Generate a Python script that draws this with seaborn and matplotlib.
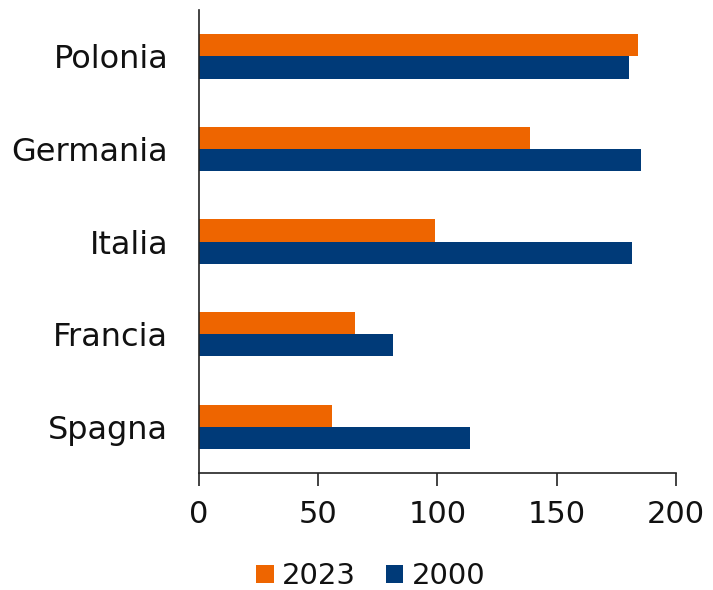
import matplotlib
matplotlib.use("Agg")
import matplotlib.pyplot as plt
import seaborn as sns
import pandas as pd

paesi = ["Polonia", "Germania", "Italia", "Francia", "Spagna"]
valori_2023 = [184, 139, 99, 65.5, 56]
valori_2000 = [180.5, 185.5, 181.5, 81.5, 113.5]
anni = ["2023", "2000"]
colori = ["#EE6500", "#003A78"]

df = pd.DataFrame({
    "paese": paesi * 2,
    "anno": [anni[0]] * len(paesi) + [anni[1]] * len(paesi),
    "valore": valori_2023 + valori_2000,
})

sns.set_theme(style="white")
plt.rcParams["font.family"] = ["DejaVu Sans"]

fig = plt.figure(figsize=(7.13, 5.90), dpi=100)
ax = fig.add_axes([0.279, 0.198, 0.669, 0.785])
sns.barplot(data=df, y="paese", x="valore", hue="anno", hue_order=anni,
            palette=colori, orient="h", width=0.48, ax=ax, saturation=1,
            edgecolor="none")
ax.set_xlim(0, 200)
ax.set_ylim(4.5, -0.5)
ax.set_xticks([0, 50, 100, 150, 200])
ax.set_xlabel("")
ax.set_ylabel("")
for s in ["top", "right"]:
    ax.spines[s].set_visible(False)
for s in ["left", "bottom"]:
    ax.spines[s].set_color("#222222")
    ax.spines[s].set_linewidth(1.2)
ax.tick_params(axis="x", bottom=True, direction="out", length=9, width=1.2,
               color="#222222", labelsize=22, pad=10, labelcolor="#111111")
ax.tick_params(axis="y", left=False, length=0, labelsize=23, pad=22,
               labelcolor="#111111")
ax.legend_.remove()
handles, labels = ax.get_legend_handles_labels()
leg = fig.legend(handles, labels, loc="lower center", bbox_to_anchor=(0.52, -0.045),
                 ncol=2, frameon=False, fontsize=21, handlelength=0.6,
                 handleheight=0.6, handletextpad=0.3, columnspacing=1.0,
                 labelcolor="#111111")
fig.savefig("out.png", dpi=100)
